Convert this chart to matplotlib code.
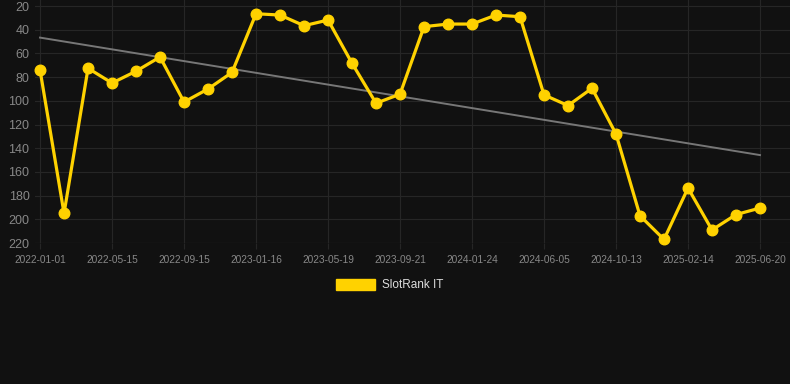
import matplotlib
matplotlib.use("Agg")
import matplotlib.pyplot as plt
import numpy as np

plt.rcParams["font.family"] = ["Liberation Sans", "DejaVu Sans"]

tick_labels = ["2022-01-01", "2022-05-15", "2022-09-15", "2023-01-16", "2023-05-19",
               "2023-09-21", "2024-01-24", "2024-06-05", "2024-10-13", "2025-02-14", "2025-06-20"]
ranks = [74, 195, 72.5, 85, 75, 63, 101, 90, 76, 26.5,
         27.6, 36.6, 31.8, 68.3, 102, 94.4, 37.4, 35.2, 35.2, 27.6,
         29, 95, 104, 89.4, 128, 197, 217, 173.6, 209, 196, 190.5]
series_name = "SlotRank IT"
y_ticks = [20, 40, 60, 80, 100, 120, 140, 160, 180, 200, 220]

BG = "#111111"
YELLOW = "#FFD200"

fig = plt.figure(figsize=(7.9, 3.84), dpi=100, facecolor=BG)
ax = fig.add_axes([35/790, 1 - 243/384, 1 - 35/790, 243/384])
ax.set_facecolor(BG)

x = np.arange(len(ranks))
coef = np.polyfit(x, ranks, 1)
ax.plot(x, np.polyval(coef, x), color="#777777", lw=1.4, zorder=2)
ax.plot(x, ranks, color=YELLOW, lw=2.3, marker="o", ms=7.6, zorder=3, clip_on=False)

ax.set_xlim(-0.21, 31.25)
ax.set_ylim(220, 14.9)
ax.set_yticks(y_ticks)
ax.set_yticklabels([str(v) for v in y_ticks])
tick_pos = np.arange(0, len(ranks), 3)
ax.set_xticks(tick_pos)
ax.set_xticklabels(tick_labels)

ax.grid(True, color="#262626", lw=0.8)
for s in ax.spines.values():
    s.set_visible(False)
ax.tick_params(axis="y", colors="#888888", labelsize=9, length=0, pad=4)
ax.tick_params(axis="x", colors="#262626", labelcolor="#888888", labelsize=7.3, length=4, pad=4.5)
ax.axhline(220, color="#2a2a2a", lw=0.8, zorder=1)

# legend
fig.patches.append(plt.Rectangle((336/790, 1 - 290/384), 39/790, 11/384,
                                 transform=fig.transFigure, color=YELLOW))
fig.text(382/790, 1 - 285/384, series_name, color="#dddddd", fontsize=8.5, va="center", ha="left")

fig.savefig("out.png", dpi=100, facecolor=BG)
